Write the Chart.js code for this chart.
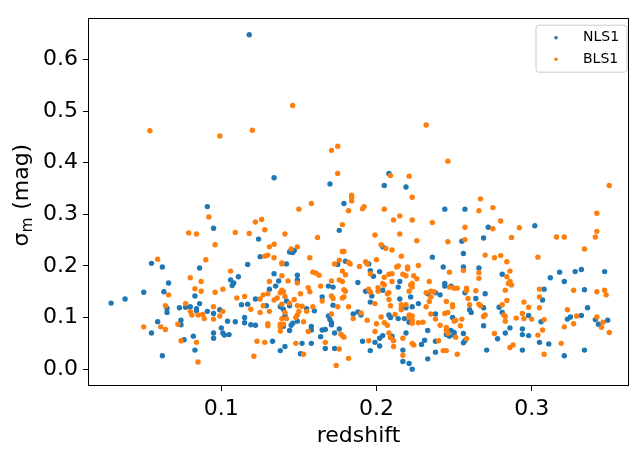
<!DOCTYPE html>
<html><head><meta charset="utf-8">
<script src="https://cdn.jsdelivr.net/npm/chart.js@4/dist/chart.umd.min.js"></script>
<style>html,body{margin:0;padding:0;background:#fff}canvas{display:block}</style>
</head><body>
<canvas id="c" width="633" height="449"></canvas>
<script>
const seriesNames = ['NLS1', 'BLS1'];
const seriesColors = ['#1f77b4', '#ff7f0e'];
const xTicks = [0.1, 0.2, 0.3];
const yTicks = [0.0, 0.1, 0.2, 0.3, 0.4, 0.5, 0.6];
const xRange = [0.0141, 0.3627];
const yRange = [-0.0326, 0.680];
const xTitle = 'redshift';
const yTitleMain = 'σ', yTitleSub = 'm', yTitleRest = ' (mag)';

// [redshift, sigma_m]
const nlsPoints = [
[0.118,0.648],[0.134,0.371],[0.170,0.359],[0.208,0.379],[0.205,0.356],[0.219,0.353],
[0.091,0.315],[0.095,0.273],[0.055,0.205],[0.062,0.198],[0.086,0.196],[0.066,0.167],
[0.179,0.321],[0.176,0.269],[0.124,0.252],[0.144,0.227],[0.147,0.230],[0.146,0.226],[0.125,0.218],[0.180,0.209],[0.175,0.203],[0.142,0.204],[0.117,0.203],[0.134,0.185],[0.149,0.182],[0.111,0.179],[0.106,0.173],[0.108,0.167],[0.137,0.171],[0.149,0.173],[0.188,0.168],
[0.244,0.310],[0.257,0.310],[0.272,0.275],[0.269,0.254],[0.255,0.248],[0.204,0.237],[0.256,0.224],[0.236,0.217],[0.195,0.204],[0.243,0.198],[0.256,0.198],[0.266,0.196],[0.196,0.191],[0.198,0.180],[0.202,0.189],[0.215,0.170],[0.244,0.166],
[0.302,0.278],[0.281,0.184],[0.312,0.177],[0.318,0.188],[0.328,0.189],[0.332,0.193],[0.347,0.189],[0.321,0.170],
[0.050,0.149],[0.063,0.150],[0.083,0.142],[0.038,0.136],[0.029,0.128],[0.086,0.127],[0.065,0.118],[0.073,0.119],[0.077,0.120],[0.080,0.121],[0.084,0.117],[0.084,0.113],[0.099,0.115],[0.091,0.112],[0.095,0.108],[0.065,0.110],[0.074,0.095],[0.059,0.092],[0.074,0.086],[0.055,0.070],[0.100,0.080],[0.095,0.070],[0.101,0.070],[0.102,0.066],[0.095,0.060],[0.082,0.064],[0.076,0.057],[0.083,0.037],[0.062,0.026],
[0.107,0.162],[0.169,0.161],[0.172,0.159],[0.135,0.161],[0.131,0.155],[0.122,0.136],[0.142,0.132],[0.165,0.140],[0.172,0.124],[0.113,0.125],[0.117,0.126],[0.129,0.123],[0.138,0.121],[0.144,0.123],[0.155,0.117],[0.160,0.113],[0.140,0.116],[0.169,0.103],[0.185,0.107],[0.188,0.111],[0.141,0.104],[0.149,0.093],[0.170,0.096],[0.171,0.090],[0.171,0.086],[0.104,0.093],[0.109,0.092],[0.115,0.100],[0.115,0.090],[0.119,0.086],[0.122,0.085],[0.140,0.083],[0.145,0.085],[0.144,0.075],[0.146,0.089],[0.158,0.083],[0.158,0.076],[0.165,0.076],[0.167,0.077],[0.176,0.078],[0.173,0.070],[0.105,0.067],[0.164,0.063],[0.133,0.054],[0.152,0.050],[0.158,0.050],[0.141,0.044],[0.138,0.036],[0.167,0.040],[0.173,0.040],[0.151,0.030],
[0.193,0.151],[0.204,0.153],[0.196,0.130],[0.197,0.142],[0.214,0.159],[0.222,0.140],[0.215,0.136],[0.219,0.119],[0.223,0.121],[0.227,0.127],[0.233,0.146],[0.238,0.148],[0.241,0.144],[0.244,0.161],[0.248,0.161],[0.257,0.148],[0.270,0.146],[0.264,0.137],[0.269,0.119],[0.260,0.115],[0.261,0.110],[0.208,0.105],[0.209,0.100],[0.214,0.098],[0.190,0.105],[0.218,0.098],[0.221,0.091],[0.238,0.107],[0.249,0.100],[0.248,0.075],[0.250,0.071],[0.245,0.067],[0.247,0.064],[0.250,0.066],[0.256,0.069],[0.257,0.055],[0.256,0.051],[0.269,0.084],[0.233,0.075],[0.231,0.056],[0.238,0.054],[0.229,0.048],[0.219,0.070],[0.210,0.064],[0.204,0.065],[0.202,0.060],[0.199,0.052],[0.191,0.054],[0.202,0.045],[0.196,0.036],[0.217,0.037],[0.217,0.015],[0.221,0.011],[0.223,0.000],[0.238,0.033],[0.233,0.020],[0.271,0.037],
[0.308,0.155],[0.334,0.154],[0.307,0.134],[0.279,0.120],[0.336,0.119],[0.281,0.110],[0.298,0.104],[0.306,0.092],[0.323,0.097],[0.325,0.101],[0.332,0.104],[0.341,0.096],[0.349,0.095],[0.343,0.087],[0.286,0.080],[0.294,0.078],[0.283,0.070],[0.294,0.067],[0.298,0.065],[0.278,0.059],[0.305,0.052],[0.311,0.049],[0.294,0.037],[0.334,0.037],[0.321,0.026]
];
const blsPoints = [
[0.054,0.462],[0.099,0.452],[0.146,0.511],[0.120,0.463],[0.175,0.432],[0.171,0.424],[0.175,0.379],[0.232,0.473],[0.246,0.403],[0.209,0.375],[0.221,0.374],[0.350,0.356],
[0.092,0.295],[0.079,0.264],[0.084,0.262],[0.096,0.241],[0.059,0.213],[0.090,0.212],[0.080,0.177],[0.087,0.170],
[0.184,0.337],[0.184,0.333],[0.184,0.326],[0.158,0.321],[0.150,0.310],[0.182,0.307],[0.126,0.290],[0.122,0.285],[0.178,0.280],[0.128,0.270],[0.109,0.265],[0.118,0.263],[0.141,0.262],[0.162,0.255],[0.134,0.242],[0.131,0.237],[0.149,0.237],[0.145,0.233],[0.178,0.228],[0.179,0.228],[0.130,0.221],[0.128,0.219],[0.134,0.216],[0.157,0.216],[0.176,0.211],[0.182,0.207],[0.183,0.204],[0.173,0.204],[0.139,0.206],[0.139,0.204],[0.189,0.199],[0.106,0.190],[0.178,0.190],[0.159,0.188],[0.161,0.186],[0.163,0.182],[0.139,0.181],[0.180,0.183],[0.131,0.170],[0.143,0.171],[0.149,0.167],[0.171,0.171],[0.176,0.173],[0.178,0.170],
[0.223,0.333],[0.267,0.330],[0.192,0.315],[0.191,0.311],[0.205,0.310],[0.266,0.307],[0.275,0.313],[0.215,0.297],[0.211,0.289],[0.223,0.289],[0.236,0.284],[0.257,0.275],[0.275,0.272],[0.215,0.262],[0.199,0.260],[0.257,0.251],[0.226,0.249],[0.246,0.247],[0.203,0.241],[0.206,0.234],[0.210,0.231],[0.270,0.221],[0.216,0.219],[0.276,0.216],[0.200,0.212],[0.193,0.208],[0.194,0.204],[0.214,0.200],[0.213,0.198],[0.220,0.198],[0.220,0.194],[0.227,0.201],[0.256,0.191],[0.247,0.188],[0.266,0.187],[0.196,0.185],[0.208,0.184],[0.210,0.185],[0.217,0.184],[0.219,0.181],[0.224,0.181],[0.226,0.175],[0.205,0.178],[0.266,0.176],[0.210,0.170],[0.234,0.170],[0.204,0.166],[0.223,0.166],
[0.342,0.302],[0.292,0.274],[0.280,0.287],[0.342,0.267],[0.341,0.256],[0.287,0.255],[0.316,0.256],[0.321,0.256],[0.334,0.233],[0.280,0.220],[0.304,0.217],[0.284,0.208],[0.286,0.190],[0.284,0.179],[0.286,0.170],[0.285,0.166],
[0.083,0.156],[0.087,0.151],[0.096,0.149],[0.101,0.155],[0.066,0.144],[0.077,0.127],[0.064,0.123],[0.080,0.112],[0.095,0.121],[0.101,0.112],[0.081,0.105],[0.085,0.105],[0.088,0.106],[0.089,0.098],[0.099,0.103],[0.095,0.097],[0.072,0.087],[0.050,0.082],[0.061,0.082],[0.064,0.077],[0.074,0.055],[0.084,0.052],[0.085,0.014],
[0.156,0.158],[0.157,0.150],[0.164,0.161],[0.179,0.154],[0.180,0.151],[0.139,0.153],[0.140,0.150],[0.138,0.148],[0.127,0.144],[0.130,0.146],[0.115,0.141],[0.110,0.138],[0.125,0.136],[0.134,0.134],[0.136,0.138],[0.141,0.141],[0.147,0.135],[0.151,0.146],[0.171,0.142],[0.172,0.137],[0.178,0.138],[0.179,0.140],[0.165,0.132],[0.175,0.121],[0.182,0.121],[0.127,0.123],[0.139,0.126],[0.144,0.128],[0.149,0.123],[0.152,0.122],[0.159,0.121],[0.155,0.112],[0.119,0.116],[0.125,0.110],[0.131,0.112],[0.141,0.110],[0.150,0.112],[0.171,0.107],[0.185,0.098],[0.139,0.098],[0.142,0.098],[0.148,0.100],[0.149,0.105],[0.153,0.092],[0.130,0.088],[0.130,0.084],[0.138,0.087],[0.140,0.087],[0.138,0.082],[0.138,0.074],[0.156,0.073],[0.177,0.068],[0.178,0.065],[0.179,0.062],[0.123,0.054],[0.128,0.052],[0.148,0.050],[0.167,0.052],[0.176,0.039],[0.153,0.029],[0.121,0.025],[0.182,0.021],[0.174,0.007],
[0.195,0.155],[0.196,0.149],[0.201,0.151],[0.201,0.158],[0.205,0.163],[0.207,0.146],[0.208,0.148],[0.208,0.135],[0.209,0.123],[0.199,0.127],[0.222,0.163],[0.223,0.159],[0.221,0.151],[0.216,0.125],[0.219,0.125],[0.216,0.119],[0.232,0.121],[0.232,0.148],[0.235,0.151],[0.237,0.150],[0.235,0.140],[0.234,0.131],[0.245,0.131],[0.247,0.159],[0.250,0.157],[0.252,0.157],[0.258,0.157],[0.258,0.152],[0.264,0.152],[0.259,0.137],[0.266,0.126],[0.267,0.123],[0.249,0.125],[0.249,0.121],[0.260,0.125],[0.244,0.108],[0.246,0.110],[0.216,0.115],[0.212,0.106],[0.203,0.101],[0.190,0.109],[0.194,0.095],[0.200,0.088],[0.205,0.090],[0.207,0.085],[0.221,0.105],[0.221,0.100],[0.223,0.095],[0.223,0.103],[0.223,0.089],[0.227,0.090],[0.230,0.091],[0.238,0.097],[0.241,0.085],[0.250,0.093],[0.251,0.095],[0.255,0.097],[0.254,0.084],[0.245,0.081],[0.245,0.075],[0.246,0.069],[0.251,0.062],[0.258,0.059],[0.276,0.069],[0.269,0.102],[0.270,0.105],[0.235,0.107],[0.240,0.055],[0.223,0.050],[0.224,0.047],[0.217,0.060],[0.211,0.055],[0.211,0.044],[0.209,0.061],[0.208,0.070],[0.195,0.055],[0.199,0.073],[0.217,0.027],[0.243,0.036],[0.245,0.036],[0.252,0.029],
[0.287,0.163],[0.283,0.153],[0.305,0.155],[0.327,0.153],[0.342,0.150],[0.347,0.153],[0.348,0.144],[0.305,0.140],[0.284,0.133],[0.295,0.130],[0.281,0.125],[0.298,0.120],[0.305,0.119],[0.282,0.105],[0.283,0.102],[0.294,0.108],[0.295,0.098],[0.300,0.097],[0.290,0.099],[0.283,0.093],[0.308,0.096],[0.323,0.115],[0.329,0.103],[0.342,0.101],[0.346,0.091],[0.345,0.081],[0.327,0.088],[0.321,0.082],[0.350,0.071],[0.307,0.076],[0.304,0.066],[0.319,0.050],[0.288,0.047],[0.286,0.042],[0.308,0.029]
];

const FONT = 'DejaVu Sans';
const toXY = pts => pts.map(p => ({x: p[0], y: p[1]}));

const framePlugin = {
  id: 'frame',
  afterDraw(chart) {
    const {ctx, chartArea: a} = chart;
    ctx.save();
    ctx.strokeStyle = '#000';
    ctx.lineWidth = 1;
    const l = Math.round(a.left) + 0.5, r = Math.round(a.right) - 0.5;
    const t = Math.round(a.top) + 0.5, b = Math.round(a.bottom) - 0.5;
    ctx.strokeRect(l, t, r - l, b - t);
    // legend
    const bx = a.right - 93, by = a.top + 7, bw = 91, bh = 47, rad = 3;
    ctx.beginPath();
    ctx.moveTo(bx + rad, by);
    ctx.arcTo(bx + bw, by, bx + bw, by + bh, rad);
    ctx.arcTo(bx + bw, by + bh, bx, by + bh, rad);
    ctx.arcTo(bx, by + bh, bx, by, rad);
    ctx.arcTo(bx, by, bx + bw, by, rad);
    ctx.closePath();
    ctx.fillStyle = 'rgba(255,255,255,0.8)';
    ctx.fill();
    ctx.strokeStyle = '#cccccc';
    ctx.stroke();
    ctx.font = '14px "' + FONT + '"';
    ctx.textBaseline = 'middle';
    ctx.textAlign = 'left';
    seriesNames.forEach((name, i) => {
      const cy = by + 12.5 + i * 21.5;
      ctx.fillStyle = seriesColors[i];
      ctx.beginPath();
      ctx.arc(bx + 20, cy, 1.8, 0, Math.PI * 2);
      ctx.fill();
      ctx.fillStyle = '#000';
      ctx.fillText(name, bx + 47, cy);
    });
    // y-axis title with subscript
    const cyT = (a.top + a.bottom) / 2 - 7;
    ctx.translate(20, cyT);
    ctx.rotate(-Math.PI / 2);
    const big = '22px "' + FONT + '"', small = '15.5px "' + FONT + '"';
    ctx.font = big; const w1 = ctx.measureText(yTitleMain).width;
    const w3 = ctx.measureText(yTitleRest).width;
    ctx.font = small; const w2 = ctx.measureText(yTitleSub).width;
    const gap = 0.5;
    let x = -(w1 + w2 + w3 + gap) / 2;
    ctx.fillStyle = '#000';
    ctx.textBaseline = 'alphabetic';
    ctx.font = big; ctx.fillText(yTitleMain, x, 8); x += w1;
    ctx.font = small; ctx.fillText(yTitleSub, x, 12); x += w2 + gap;
    ctx.font = big; ctx.fillText(yTitleRest, x, 8);
    ctx.restore();
  }
};

new Chart(document.getElementById('c'), {
  type: 'scatter',
  data: {
    datasets: [
      {label: seriesNames[0], data: toXY(nlsPoints), backgroundColor: seriesColors[0], borderWidth: 0, pointRadius: 2.7, order: 1},
      {label: seriesNames[1], data: toXY(blsPoints), backgroundColor: seriesColors[1], borderWidth: 0, pointRadius: 2.7, order: 0}
    ]
  },
  options: {
    responsive: false,
    animation: false,
    events: [],
    layout: {padding: {top: 5, right: 3, left: 0, bottom: 0}},
    plugins: {legend: {display: false}, tooltip: {enabled: false}},
    scales: {
      x: {
        type: 'linear', min: xRange[0], max: xRange[1],
        afterBuildTicks: s => { s.ticks = xTicks.map(v => ({value: v})); },
        afterFit: s => { s.height = 63; },
        border: {display: false},
        grid: {display: true, drawOnChartArea: false, drawTicks: true, tickLength: 5, tickColor: '#000', tickWidth: 1},
        ticks: {color: '#000', font: {family: FONT, size: 22}, padding: 5, maxRotation: 0, autoSkip: false, callback: v => v.toFixed(1)},
        title: {display: true, text: xTitle, color: '#000', font: {family: FONT, size: 22}, padding: {top: 0, bottom: 0}}
      },
      y: {
        type: 'linear', min: yRange[0], max: yRange[1],
        afterBuildTicks: s => { s.ticks = yTicks.map(v => ({value: v})); },
        afterFit: s => { s.width = 88; },
        border: {display: false},
        grid: {display: true, drawOnChartArea: false, drawTicks: true, tickLength: 5, tickColor: '#000', tickWidth: 1},
        ticks: {color: '#000', font: {family: FONT, size: 22}, padding: 5, autoSkip: false, callback: v => v.toFixed(1)}
      }
    }
  },
  plugins: [framePlugin]
});
</script>
</body></html>
